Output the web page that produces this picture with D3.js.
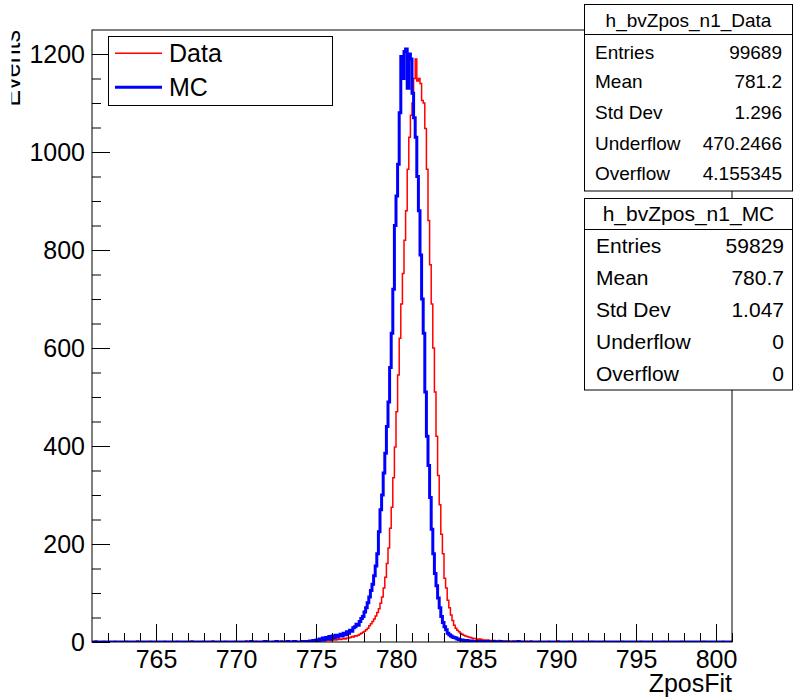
<!DOCTYPE html>
<html>
<head>
<meta charset="utf-8">
<script src="https://cdn.jsdelivr.net/npm/d3@7"></script>
<style>
  body { margin: 0; background: #fff; }
  svg { display: block; }
  text { font-family: "Liberation Sans", Arial, Helvetica, sans-serif; fill: #000; }
</style>
</head>
<body>
<svg id="chart" width="793" height="698"></svg>
<script>
// ---- histogram binning ----
const xRange = [761, 801];
const binWidth = 0.1;
const yMax = 1249;

// bin contents from 774.0 to 788.0 (0.1 wide bins)
const coreStart = 774.0;
const dataCore = [
  1, 2, 1, 2, 1, 1, 2, 2, 1, 2,
  2, 3, 2, 3, 3, 2, 4, 3, 4, 3,
  4, 5, 4, 5, 6, 5, 6, 7, 6, 8,
  8, 9, 11, 10, 13, 12, 14, 16, 18, 20,
  22, 25, 28, 33, 37, 42, 47, 53, 60, 68,
  79, 92, 110, 132, 160, 192, 232, 275, 335, 398,
  470, 545, 620, 690, 752, 820, 880, 965, 1030, 1075,
  1100, 1150, 1190, 1145, 1150, 1140, 1105, 1100, 1048, 965,
  860, 770, 690, 600, 510, 420, 340, 280, 220, 180,
  130, 110, 85, 70, 55, 44, 34, 28, 24, 21,
  18, 16, 14, 12, 11, 10, 9, 8, 7, 7,
  6, 5, 6, 5, 4, 4, 3, 4, 3, 3,
  2, 3, 2, 2, 3, 2, 1, 2, 2, 1,
  2, 1, 1, 2, 1, 1, 2, 1, 1, 1
];
const mcCore = [
  0, 1, 0, 1, 0, 1, 2, 1, 3, 2,
  4, 3, 6, 4, 8, 5, 9, 7, 11, 6,
  12, 9, 14, 10, 13, 16, 12, 18, 15, 21,
  18, 24, 22, 29, 31, 36, 34, 42, 48, 52,
  61, 70, 80, 92, 105, 118, 135, 155, 180, 225,
  270, 300, 345, 385, 440, 490, 560, 630, 720, 850,
  910, 975, 1080, 1195, 1150, 1205, 1210, 1130, 1200, 1190,
  1120, 1070, 1030, 950, 880, 790, 700, 630, 510, 420,
  360, 295, 230, 180, 140, 115, 90, 70, 52, 40,
  31, 25, 18, 15, 12, 10, 9, 8, 6, 5,
  4, 4, 3, 2, 3, 2, 1, 2, 1, 1,
  1, 0, 1, 0, 1, 0, 0, 1, 0, 0,
  0, 1, 0, 0, 0, 1, 0, 0, 0, 0,
  0, 0, 0, 0, 0, 0, 1, 0, 0, 0
];

// sparse low-count bins outside the core (lower bin edge, content)
const dataTailEdges = [761.2, 761.7, 762.4, 763.1, 763.8, 764.6, 765.5, 766.3, 767.2, 767.9,
  768.5, 769.3, 769.9, 770.6, 771.2, 771.7, 772.3, 772.8, 773.4, 773.7,
  788.1, 788.4, 788.9, 789.5, 790.1, 790.8, 791.6, 792.2, 793.0, 794.1,
  795.3, 796.7, 797.8, 799.2, 800.4];
const dataTailCounts = [2, 1, 1, 1, 2, 1, 1, 1, 2, 1,
  2, 1, 1, 2, 1, 2, 1, 2, 1, 2,
  1, 2, 1, 1, 2, 1, 1, 1, 1, 1,
  1, 1, 1, 1, 1];
const mcTailEdges = [770.9, 771.8, 772.5, 773.2, 773.6];
const mcTailCounts = [1, 1, 1, 1, 1];

// ---- axes and labels ----
const xMajorTicks = [765, 770, 775, 780, 785, 790, 795, 800];
const xMinorTicks = d3.range(762, 802, 1);
const yMajorTicks = [0, 200, 400, 600, 800, 1000, 1200];
const yMinorTicks = d3.range(0, 1250, 50);
const xTitle = "ZposFit";
const yTitle = "Events";
const legendLabels = ["Data", "MC"];
const seriesColors = ["#ff0000", "#0000ff"];

const dataStatsTitle = "h_bvZpos_n1_Data";
const dataStatsNames = ["Entries", "Mean", "Std Dev", "Underflow", "Overflow"];
const dataStatsValues = ["99689", "781.2", "1.296", "470.2466", "4.155345"];
const mcStatsTitle = "h_bvZpos_n1_MC";
const mcStatsNames = ["Entries", "Mean", "Std Dev", "Underflow", "Overflow"];
const mcStatsValues = ["59829", "780.7", "1.047", "0", "0"];

// ---- build full bin arrays ----
const nBins = Math.round((xRange[1] - xRange[0]) / binWidth);
function buildBins(core, tailEdges, tailCounts) {
  const arr = new Array(nBins).fill(0);
  const s = Math.round((coreStart - xRange[0]) / binWidth);
  core.forEach((v, i) => { arr[s + i] = v; });
  tailEdges.forEach((e, i) => { arr[Math.round((e - xRange[0]) / binWidth)] = tailCounts[i]; });
  return arr;
}
const dataBins = buildBins(dataCore, dataTailEdges, dataTailCounts);
const mcBins = buildBins(mcCore, mcTailEdges, mcTailCounts);

// ---- layout ----
const frame = { left: 92, right: 732, top: 30, bottom: 642 };
const svg = d3.select("#chart");
const x = d3.scaleLinear().domain(xRange).range([frame.left, frame.right]);
const y = d3.scaleLinear().domain([0, yMax]).range([frame.bottom, frame.top]);

svg.append("defs").append("clipPath").attr("id", "frameClip")
  .append("rect")
  .attr("x", frame.left).attr("y", frame.top)
  .attr("width", frame.right - frame.left).attr("height", frame.bottom - frame.top);

// step outline of a histogram
function stepPoints(bins) {
  const pts = [];
  bins.forEach((v, i) => {
    const lo = xRange[0] + i * binWidth;
    pts.push([lo, v], [lo + binWidth, v]);
  });
  return pts;
}
const line = d3.line().x(d => x(d[0])).y(d => y(d[1]));

const histG = svg.append("g").attr("clip-path", "url(#frameClip)");
histG.append("path").attr("d", line(stepPoints(dataBins)))
  .attr("fill", "none").attr("stroke", seriesColors[0]).attr("stroke-width", 1.5);
histG.append("path").attr("d", line(stepPoints(mcBins)))
  .attr("fill", "none").attr("stroke", seriesColors[1]).attr("stroke-width", 3);

// x axis
const fontSize = 25;
const xMinor = svg.append("g").attr("transform", `translate(0,${frame.bottom})`)
  .call(d3.axisBottom(x).tickValues(xMinorTicks).tickSize(-9).tickFormat(""));
const xMajor = svg.append("g").attr("transform", `translate(0,${frame.bottom})`)
  .call(d3.axisBottom(x).tickValues(xMajorTicks).tickSize(-18).tickPadding(8).tickFormat(d3.format("d")));
// y axis
const yMinor = svg.append("g").attr("transform", `translate(${frame.left},0)`)
  .call(d3.axisLeft(y).tickValues(yMinorTicks).tickSize(-9).tickFormat(""));
const yMajor = svg.append("g").attr("transform", `translate(${frame.left},0)`)
  .call(d3.axisLeft(y).tickValues(yMajorTicks).tickSize(-18).tickPadding(7).tickFormat(d3.format("d")));

[xMinor, xMajor, yMinor, yMajor].forEach(g => {
  g.select(".domain").remove();
  g.selectAll(".tick line").attr("stroke", "#000").attr("stroke-width", 1);
  g.selectAll(".tick text")
    .style("font-family", '"Liberation Sans", Arial, sans-serif')
    .style("font-size", fontSize + "px").attr("fill", "#000");
});

// frame
svg.append("rect")
  .attr("x", frame.left).attr("y", frame.top)
  .attr("width", frame.right - frame.left).attr("height", frame.bottom - frame.top)
  .attr("fill", "none").attr("stroke", "#000").attr("stroke-width", 1);

// axis titles
svg.append("text")
  .attr("x", frame.right).attr("y", 692)
  .attr("text-anchor", "end").style("font-size", fontSize + "px")
  .text(xTitle);

svg.append("defs").append("clipPath").attr("id", "yTitleClip")
  .append("rect").attr("x", 11.5).attr("y", 0).attr("width", 40).attr("height", 200);
svg.append("g").attr("clip-path", "url(#yTitleClip)")
  .append("text")
  .attr("transform", `translate(19.5,${frame.top}) rotate(-90)`)
  .attr("text-anchor", "end").style("font-size", fontSize + "px")
  .text(yTitle);

// legend
const leg = svg.append("g");
leg.append("rect").attr("x", 108.5).attr("y", 36.5).attr("width", 224).attr("height", 69)
  .attr("fill", "#fff").attr("stroke", "#000").attr("stroke-width", 1);
const legRows = [53.3, 87.3];
const legWidths = [1.5, 3];
legendLabels.forEach((lab, i) => {
  leg.append("line").attr("x1", 115).attr("x2", 162)
    .attr("y1", legRows[i]).attr("y2", legRows[i])
    .attr("stroke", seriesColors[i]).attr("stroke-width", legWidths[i]);
  leg.append("text").attr("x", 169).attr("y", legRows[i] + 8.5)
    .style("font-size", fontSize + "px").text(lab);
});

// statistics boxes
function statsBox(opts) {
  const g = svg.append("g");
  g.append("rect").attr("x", opts.x).attr("y", opts.y).attr("width", opts.w).attr("height", opts.h)
    .attr("fill", "#fff").attr("stroke", "#000").attr("stroke-width", 1);
  g.append("line").attr("x1", opts.x).attr("x2", opts.x + opts.w)
    .attr("y1", opts.sep).attr("y2", opts.sep).attr("stroke", "#000").attr("stroke-width", 1);
  g.append("text").attr("x", opts.x + opts.w / 2).attr("y", opts.titleY + opts.fs * 0.36)
    .attr("text-anchor", "middle").style("font-size", opts.fs + "px").text(opts.title);
  opts.names.forEach((n, i) => {
    g.append("text").attr("x", opts.labelX).attr("y", opts.rows[i] + opts.fs * 0.36)
      .style("font-size", opts.fs + "px").text(n);
    g.append("text").attr("x", opts.valueX).attr("y", opts.rows[i] + opts.fs * 0.36)
      .attr("text-anchor", "end").style("font-size", opts.fs + "px").text(opts.values[i]);
  });
}
statsBox({
  x: 584.5, y: 4.5, w: 208, h: 186.5, sep: 34.5, fs: 19,
  title: dataStatsTitle, titleY: 20, names: dataStatsNames, values: dataStatsValues,
  rows: [51.7, 81.3, 111.8, 142.7, 173.2], labelX: 595, valueX: 782
});
statsBox({
  x: 584.5, y: 198.5, w: 208, h: 191.5, sep: 229.5, fs: 21,
  title: mcStatsTitle, titleY: 213.3, names: mcStatsNames, values: mcStatsValues,
  rows: [245, 277, 309.3, 341.3, 373.5], labelX: 596, valueX: 784
});
</script>
</body>
</html>
